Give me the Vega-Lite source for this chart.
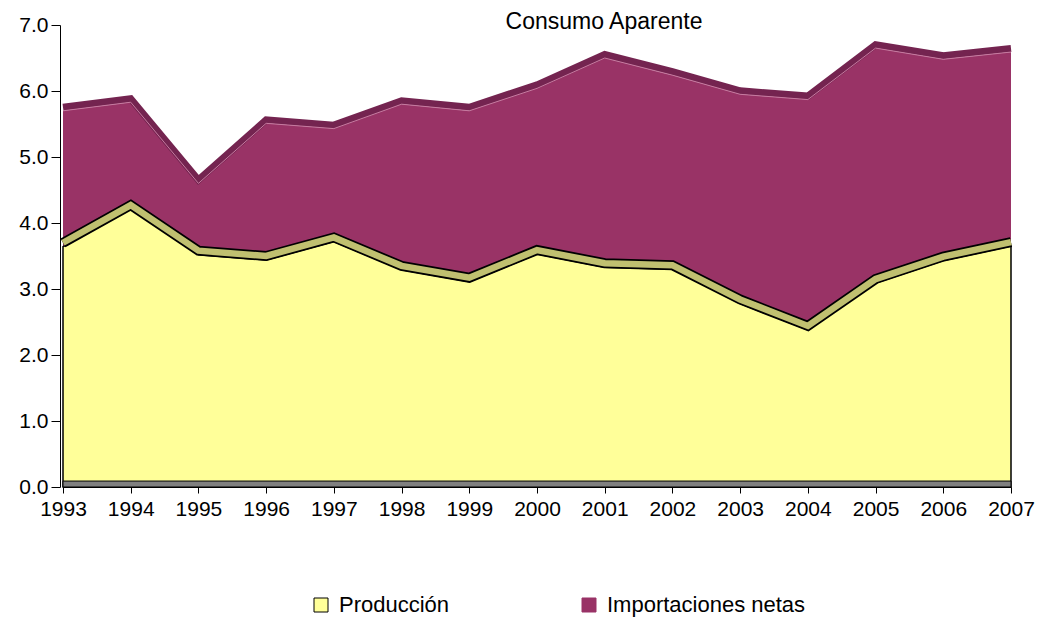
{
  "$schema": "https://vega.github.io/schema/vega-lite/v6.json",
  "width": 948,
  "height": 462,
  "autosize": {"type": "none"},
  "padding": {"left": 63, "top": 25, "right": 28, "bottom": 131},
  "background": "white",
  "config": {"view": {"stroke": null}, "font": "Liberation Sans"},
  "title": {"text": "Consumo Aparente", "fontSize": 23, "fontWeight": "normal", "font": "Liberation Sans", "color": "black", "anchor": "middle", "dx": 67, "dy": 12, "offset": -8},
  "data": {"values": [
    {"anio": 1993, "serie": "Producción", "valor": 3.64},
    {"anio": 1994, "serie": "Producción", "valor": 4.21},
    {"anio": 1995, "serie": "Producción", "valor": 3.52},
    {"anio": 1996, "serie": "Producción", "valor": 3.44},
    {"anio": 1997, "serie": "Producción", "valor": 3.72},
    {"anio": 1998, "serie": "Producción", "valor": 3.29},
    {"anio": 1999, "serie": "Producción", "valor": 3.11},
    {"anio": 2000, "serie": "Producción", "valor": 3.53},
    {"anio": 2001, "serie": "Producción", "valor": 3.33},
    {"anio": 2002, "serie": "Producción", "valor": 3.30},
    {"anio": 2003, "serie": "Producción", "valor": 2.78},
    {"anio": 2004, "serie": "Producción", "valor": 2.38},
    {"anio": 2005, "serie": "Producción", "valor": 3.09},
    {"anio": 2006, "serie": "Producción", "valor": 3.43},
    {"anio": 2007, "serie": "Producción", "valor": 3.65},
    {"anio": 1993, "serie": "Importaciones netas", "valor": 2.06},
    {"anio": 1994, "serie": "Importaciones netas", "valor": 1.62},
    {"anio": 1995, "serie": "Importaciones netas", "valor": 1.08},
    {"anio": 1996, "serie": "Importaciones netas", "valor": 2.07},
    {"anio": 1997, "serie": "Importaciones netas", "valor": 1.71},
    {"anio": 1998, "serie": "Importaciones netas", "valor": 2.51},
    {"anio": 1999, "serie": "Importaciones netas", "valor": 2.59},
    {"anio": 2000, "serie": "Importaciones netas", "valor": 2.51},
    {"anio": 2001, "serie": "Importaciones netas", "valor": 3.17},
    {"anio": 2002, "serie": "Importaciones netas", "valor": 2.94},
    {"anio": 2003, "serie": "Importaciones netas", "valor": 3.17},
    {"anio": 2004, "serie": "Importaciones netas", "valor": 3.49},
    {"anio": 2005, "serie": "Importaciones netas", "valor": 3.56},
    {"anio": 2006, "serie": "Importaciones netas", "valor": 3.05},
    {"anio": 2007, "serie": "Importaciones netas", "valor": 2.94}
  ]},
  "transform": [
    {"stack": "valor", "groupby": ["anio"], "sort": [{"field": "serie", "order": "descending"}], "as": ["y0", "y1"]}
  ],
  "encoding": {
    "x": {"field": "anio", "type": "quantitative", "scale": {"domain": [1993, 2007], "nice": false, "zero": false},
      "axis": {"title": null, "values": [1993,1994,1995,1996,1997,1998,1999,2000,2001,2002,2003,2004,2005,2006,2007], "format": "d", "labelFontSize": 21, "labelFont": "Liberation Sans", "labelColor": "black", "tickSize": 6, "labelPadding": 5, "domainColor": "black", "tickColor": "black", "grid": false, "labelFlush": false, "labelOverlap": false}}
  },
  "layer": [
    {
      "transform": [{"filter": "datum.serie === 'Importaciones netas'"}],
      "mark": {"type": "area", "fillOpacity": 1},
      "encoding": {
        "y": {"field": "y1", "type": "quantitative", "scale": {"domain": [0, 7], "nice": false},
          "axis": {"title": null, "values": [0,1,2,3,4,5,6,7], "format": ".1f", "labelFontSize": 21, "labelFont": "Liberation Sans", "labelColor": "black", "domainColor": "black", "tickColor": "black", "tickSize": 9, "labelPadding": 3, "grid": false, "offset": 3}},
        "y2": {"field": "y0"},
        "color": {"field": "serie", "type": "nominal", "scale": {"domain": ["Producción", "Importaciones netas"], "range": ["#FFFF99", "#993366"]},
          "legend": {"title": null, "orient": "none", "legendX": 247, "legendY": 569, "direction": "horizontal", "symbolType": "square", "symbolSize": 196, "labelFontSize": 22, "labelFont": "Liberation Sans", "labelColor": "black", "columnPadding": 128, "labelOffset": 7, "labelLimit": 300,
            "encode": {"symbols": {"update": {"stroke": {"signal": "datum.value === 'Producción' ? 'black' : '#993366'"}, "strokeWidth": {"value": 1}}}}}}
      }
    },
    {
      "transform": [{"filter": "datum.serie === 'Producción'"}],
      "mark": {"type": "area", "fillOpacity": 1, "stroke": "black", "strokeWidth": 1.5},
      "encoding": {
        "y": {"field": "y1", "type": "quantitative", "scale": {"domain": [0, 7], "nice": false}},
        "y2": {"field": "y0"},
        "color": {"field": "serie", "type": "nominal"}
      }
    },
    {
      "transform": [{"filter": "datum.serie === 'Producción'"}],
      "mark": {"type": "line", "color": "black", "strokeWidth": 10, "yOffset": -4, "strokeJoin": "miter", "strokeCap": "butt"},
      "encoding": {"y": {"field": "y1", "type": "quantitative"}}
    },
    {
      "transform": [{"filter": "datum.serie === 'Producción'"}],
      "mark": {"type": "line", "color": "#C0C070", "strokeWidth": 6.5, "yOffset": -4, "strokeJoin": "miter", "strokeCap": "butt"},
      "encoding": {"y": {"field": "y1", "type": "quantitative"}}
    },
    {
      "transform": [{"filter": "datum.serie === 'Importaciones netas'"}],
      "mark": {"type": "line", "color": "#742450", "strokeWidth": 7, "yOffset": -3.5, "strokeJoin": "miter", "strokeCap": "butt"},
      "encoding": {"y": {"field": "y1", "type": "quantitative"}}
    },
    {
      "transform": [{"filter": "datum.serie === 'Importaciones netas'"}],
      "mark": {"type": "line", "color": "#c77aa0", "strokeWidth": 1},
      "encoding": {"y": {"field": "y1", "type": "quantitative"}}
    },
    {
      "data": {"values": [{"desde": 1993, "hasta": 2007, "base": 0, "tope": 0.09}]},
      "mark": {"type": "rect", "fill": "#808080", "stroke": "black", "strokeWidth": 1},
      "encoding": {
        "x": {"field": "desde", "type": "quantitative"},
        "x2": {"field": "hasta"},
        "y": {"field": "base", "type": "quantitative"},
        "y2": {"field": "tope"}
      }
    }
  ]
}
